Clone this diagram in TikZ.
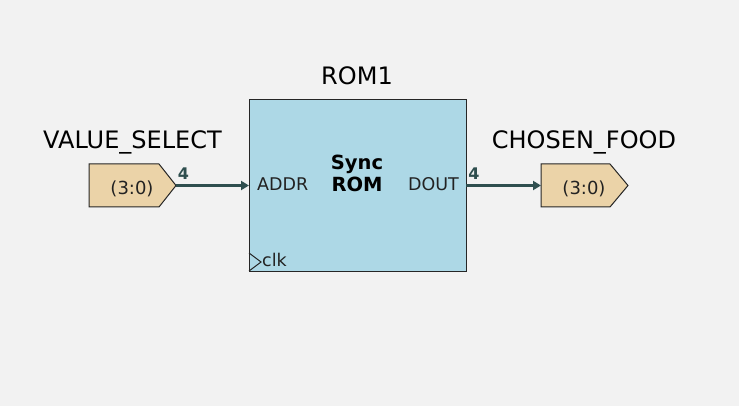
\documentclass[tikz,border=0pt]{standalone}
\usepackage{fontspec}
\setmainfont{DejaVu Sans}
\usetikzlibrary{arrows.meta}
\definecolor{bg}{HTML}{F2F2F2}
\definecolor{romfill}{HTML}{ADD8E6}
\definecolor{pinfill}{HTML}{EBD3A8}
\definecolor{wire}{HTML}{2F4F4F}
\definecolor{txt}{HTML}{222222}
\tikzset{
  title/.style={font=\fontsize{24}{26}\selectfont, text=black, inner sep=0pt, anchor=base},
  portlbl/.style={font=\fontsize{17.5}{19}\selectfont, text=txt, inner sep=0pt},
  pinlbl/.style={font=\fontsize{18}{20}\selectfont, text=txt, inner sep=0pt, anchor=base},
  buslbl/.style={font=\bfseries\fontsize{16}{18}\selectfont, text=wire, inner sep=0pt, anchor=base},
  bus/.style={draw=wire, line width=3.5pt, -{Triangle[length=8pt,width=9pt]}},
  pinshape/.style={draw=black!85, line width=1pt, fill=pinfill},
  romtext/.style={font=\bfseries\fontsize{19.5}{22}\selectfont, inner sep=0pt, anchor=base},
}
\begin{document}
\begin{tikzpicture}[x=1pt,y=-1pt]
\useasboundingbox[fill=bg] (0,0) rectangle (739,406);
% ROM block
\node[draw=black!85, line width=1pt, fill=romfill, minimum width=217pt, minimum height=172pt, inner sep=0pt, anchor=north west] (rom) at (249,99) {};
\node[title] (romname) at (357,85) {ROM1};
\node[romtext] (romtype1) at (357,170) {Sync};
\node[romtext] (romtype2) at (357,191.7) {ROM};
\node[portlbl, anchor=base west] (addr) at (257,191) {ADDR};
\node[portlbl, anchor=base east] (dout) at (459,191) {DOUT};
\node[portlbl, anchor=base west] (clk) at (262,266) {clk};
\draw[black!85, line width=1pt] (249,253) -- (261,262) -- (249,271);
% input pin
\draw[pinshape] (89,164) -- (159,164) -- (176,185.5) -- (159,207) -- (89,207) -- cycle;
\coordinate (inpin) at (176,185.5);
\node[pinlbl] (inlbl) at (132,195) {(3:0)};
\node[title] (inname) at (132.5,148.3) {VALUE\_SELECT};
% output pin
\draw[pinshape] (541,164) -- (610,164) -- (628,185.5) -- (610,207) -- (541,207) -- cycle;
\coordinate (outpin) at (541,185.5);
\node[pinlbl] (outlbl) at (584,195) {(3:0)};
\node[title] (outname) at (584,148.3) {CHOSEN\_FOOD};
% wires
\coordinate (romin) at (249,185.5);
\coordinate (romout) at (466,185.5);
\draw[bus] (inpin) -- (romin);
\draw[bus] (romout) -- (outpin);
\node[buslbl] (w1) at (183.5,180) {4};
\node[buslbl] (w2) at (474,180) {4};
\end{tikzpicture}
\end{document}
